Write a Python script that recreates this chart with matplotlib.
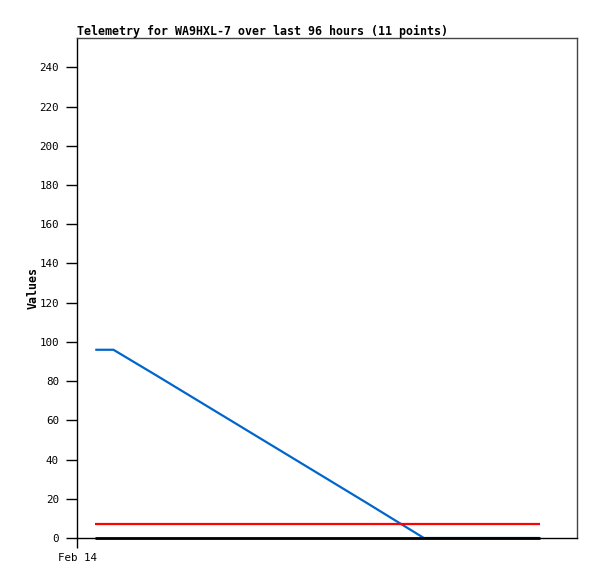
import matplotlib
matplotlib.use("Agg")
import matplotlib.pyplot as plt

hours = [0, 3.5, 12, 22, 32, 42, 52, 63.1, 70, 78, 85.3]
blue_vals = [96, 96, 82.5, 66.4, 50.3, 34.2, 18.1, 0, 0, 0, 0]
red_vals = [7, 7, 7, 7, 7, 7, 7, 7, 7, 7, 7]
black_vals = [0, 0, 0, 0, 0, 0, 0, 0, 0, 0, 0]
yticks = list(range(0, 241, 20))
xtick_pos = [-3.5]
xtick_labels = ["Feb 14"]
title = "Telemetry for WA9HXL-7 over last 96 hours (11 points)"

fig = plt.figure(figsize=(5.97, 5.79), dpi=100)
ax = fig.add_axes([77/597, 41/579, 500/597, 500/579])

ax.plot(hours, blue_vals, color="#0066cc", lw=1.6, solid_capstyle="butt", zorder=2)
ax.plot(hours, red_vals, color="#ff0000", lw=1.6, solid_capstyle="butt", zorder=3)
ax.plot(hours, black_vals, color="#000000", lw=2.0, solid_capstyle="butt", zorder=4, clip_on=False)

ax.set_xlim(-3.5, 92.5)
ax.set_ylim(0, 255)
ax.set_yticks(yticks)
ax.set_yticklabels([str(v) for v in yticks], fontsize=7.8, family="DejaVu Sans Mono")
ax.set_xticks(xtick_pos)
ax.set_xticklabels(xtick_labels, fontsize=7.8, family="DejaVu Sans Mono")
ax.tick_params(axis="y", direction="out", length=8, width=1, pad=5)
ax.tick_params(axis="x", direction="out", length=7, width=1, pad=4)
for s in ax.spines.values():
    s.set_linewidth(1)
    s.set_color("black")
ax.spines["right"].set_color("#444444")
ax.spines["top"].set_color("#444444")

ax.set_title(title, fontsize=8.4, family="DejaVu Sans Mono", fontweight="bold", loc="left", pad=2)
ax.set_ylabel("Values", fontsize=8.4, family="DejaVu Sans Mono", fontweight="bold", labelpad=0)

fig.savefig("out.png", dpi=100)
